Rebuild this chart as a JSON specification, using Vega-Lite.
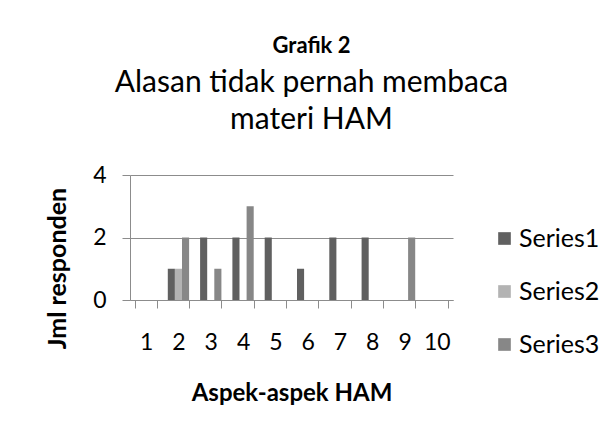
{
  "$schema": "https://vega.github.io/schema/vega-lite/v6.json",
  "width": 323,
  "height": 125,
  "autosize": {"type": "none"},
  "padding": {"left": 130, "top": 175, "right": 152, "bottom": 144},
  "background": "white",
  "title": {
    "text": "Grafik 2",
    "subtitle": ["Alasan tidak pernah membaca", "materi HAM"],
    "anchor": "middle",
    "dx": 20,
    "offset": 28,
    "font": "Lato",
    "fontSize": 22,
    "fontWeight": "bold",
    "color": "#000000",
    "subtitleFont": "Lato",
    "subtitleFontSize": 30,
    "subtitleColor": "#000000",
    "subtitleLineHeight": 37,
    "subtitlePadding": 10
  },
  "data": {
    "values": [
      {"aspek": "1", "series": "Series1", "jml": 0},
      {"aspek": "1", "series": "Series2", "jml": 0},
      {"aspek": "1", "series": "Series3", "jml": 0},
      {"aspek": "2", "series": "Series1", "jml": 1},
      {"aspek": "2", "series": "Series2", "jml": 1},
      {"aspek": "2", "series": "Series3", "jml": 2},
      {"aspek": "3", "series": "Series1", "jml": 2},
      {"aspek": "3", "series": "Series2", "jml": 0},
      {"aspek": "3", "series": "Series3", "jml": 1},
      {"aspek": "4", "series": "Series1", "jml": 2},
      {"aspek": "4", "series": "Series2", "jml": 0},
      {"aspek": "4", "series": "Series3", "jml": 3},
      {"aspek": "5", "series": "Series1", "jml": 2},
      {"aspek": "5", "series": "Series2", "jml": 0},
      {"aspek": "5", "series": "Series3", "jml": 0},
      {"aspek": "6", "series": "Series1", "jml": 1},
      {"aspek": "6", "series": "Series2", "jml": 0},
      {"aspek": "6", "series": "Series3", "jml": 0},
      {"aspek": "7", "series": "Series1", "jml": 2},
      {"aspek": "7", "series": "Series2", "jml": 0},
      {"aspek": "7", "series": "Series3", "jml": 0},
      {"aspek": "8", "series": "Series1", "jml": 2},
      {"aspek": "8", "series": "Series2", "jml": 0},
      {"aspek": "8", "series": "Series3", "jml": 0},
      {"aspek": "9", "series": "Series1", "jml": 0},
      {"aspek": "9", "series": "Series2", "jml": 0},
      {"aspek": "9", "series": "Series3", "jml": 2},
      {"aspek": "10", "series": "Series1", "jml": 0},
      {"aspek": "10", "series": "Series2", "jml": 0},
      {"aspek": "10", "series": "Series3", "jml": 0}
    ]
  },
  "mark": {"type": "bar"},
  "encoding": {
    "x": {
      "field": "aspek",
      "type": "nominal",
      "sort": ["1","2","3","4","5","6","7","8","9","10"],
      "scale": {"paddingInner": 0.34, "paddingOuter": 0.17},
      "axis": {
        "title": "Aspek-aspek HAM",
        "titleFont": "Lato",
        "titleFontSize": 24,
        "titleFontWeight": "bold",
        "titleColor": "#000000",
        "titleX": 161.5,
        "titleY": 93,
        "titleBaseline": "middle",
        "labelAngle": 0,
        "labelFont": "Lato",
        "labelFontSize": 23,
        "labelColor": "#000000",
        "labelPadding": 23,
        "tickBand": "extent",
        "tickSize": 8,
        "tickColor": "#8c8c8c",
        "domainColor": "#8c8c8c",
        "grid": false
      }
    },
    "xOffset": {"field": "series", "type": "nominal", "scale": {"paddingInner": 0, "paddingOuter": 0}},
    "y": {
      "field": "jml",
      "type": "quantitative",
      "scale": {"domain": [0, 4]},
      "axis": {
        "title": "Jml responden",
        "titleFont": "Lato",
        "titleFontSize": 25,
        "titleFontWeight": "bold",
        "titleColor": "#000000",
        "titleAngle": -90,
        "titleX": -73,
        "titleY": 93,
        "titleAlign": "center",
        "titleBaseline": "middle",
        "values": [0, 2, 4],
        "labelFont": "Lato",
        "labelFontSize": 23,
        "labelColor": "#000000",
        "labelPadding": 16,
        "tickSize": 8,
        "tickColor": "#8c8c8c",
        "domainColor": "#8c8c8c",
        "grid": true,
        "gridColor": "#8c8c8c"
      }
    },
    "color": {
      "field": "series",
      "type": "nominal",
      "scale": {"domain": ["Series1", "Series2", "Series3"], "range": ["#606060", "#b3b3b3", "#878787"]},
      "legend": {
        "title": null,
        "orient": "none",
        "legendX": 362,
        "legendY": 51,
        "padding": 0,
        "rowPadding": 27,
        "symbolType": "square",
        "symbolSize": 160,
        "symbolStrokeWidth": 0,
        "labelFont": "Lato",
        "labelFontSize": 25,
        "labelColor": "#000000",
        "labelOffset": 2
      }
    }
  },
  "config": {
    "view": {"stroke": null},
    "axis": {"labelFlush": false, "labelOverlap": false}
  }
}
